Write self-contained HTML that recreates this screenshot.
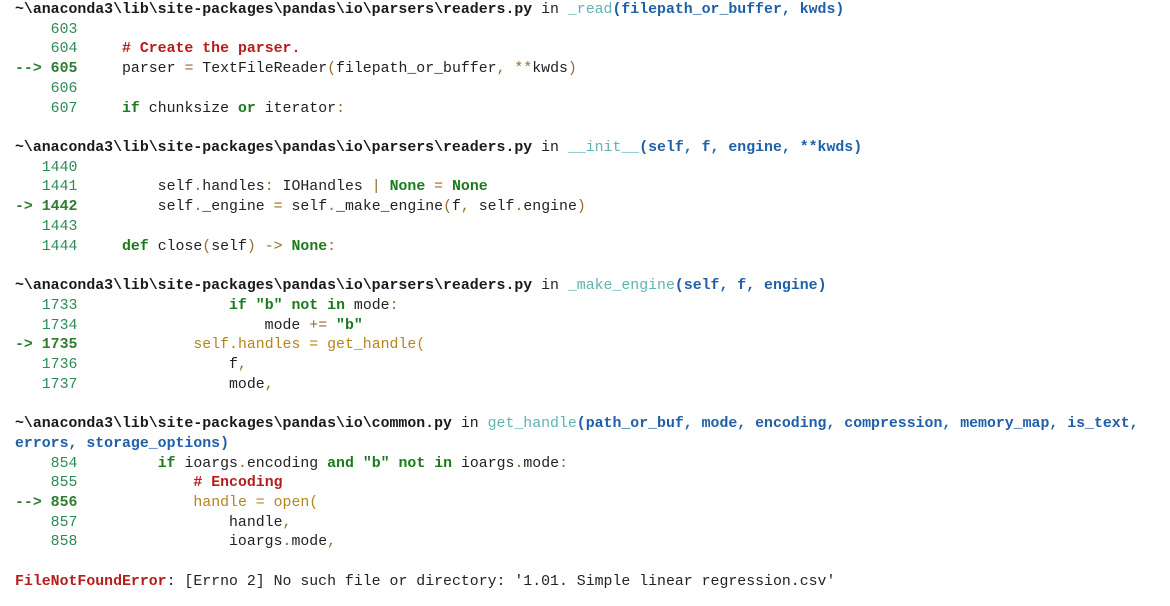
<!DOCTYPE html>
<html><head><meta charset="utf-8"><style>
html,body{margin:0;padding:0;background:#fff;width:1170px;height:606px;overflow:hidden}
pre{margin:0;padding:0 0 0 15px;font-family:"Liberation Mono",monospace;font-size:14.86px;line-height:19.72px;color:#222;position:relative;top:1px}
.p{font-weight:bold;color:#1a1a1a}
.f{color:#5fb3b3}
.a{color:#1f5fa8;font-weight:bold}
.n{color:#2e8b57}
.ar{color:#2e7d32;font-weight:bold}
.c{color:#b71c1c;font-weight:bold}
.k{color:#1b7a1b;font-weight:bold}
.y{color:#b5851a}
.o{color:#9a6b2a}
.e{color:#b71c1c;font-weight:bold}
</style></head><body><pre><span class="p">~\anaconda3\lib\site-packages\pandas\io\parsers\readers.py</span> in <span class="f">_read</span><span class="a">(filepath_or_buffer, kwds)</span>
<span class="n">    603</span>
<span class="n">    604</span>     <span class="c"># Create the parser.</span>
<span class="ar">--&gt; 605</span>     parser <span class="o">=</span> TextFileReader<span class="o">(</span>filepath_or_buffer<span class="o">,</span> <span class="o">**</span>kwds<span class="o">)</span>
<span class="n">    606</span>
<span class="n">    607</span>     <span class="k">if</span> chunksize <span class="k">or</span> iterator<span class="o">:</span>

<span class="p">~\anaconda3\lib\site-packages\pandas\io\parsers\readers.py</span> in <span class="f">__init__</span><span class="a">(self, f, engine, **kwds)</span>
<span class="n">   1440</span>
<span class="n">   1441</span>         self<span class="o">.</span>handles<span class="o">:</span> IOHandles <span class="o">|</span> <span class="k">None</span> <span class="o">=</span> <span class="k">None</span>
<span class="ar">-&gt; 1442</span>         self<span class="o">.</span>_engine <span class="o">=</span> self<span class="o">.</span>_make_engine<span class="o">(</span>f<span class="o">,</span> self<span class="o">.</span>engine<span class="o">)</span>
<span class="n">   1443</span>
<span class="n">   1444</span>     <span class="k">def</span> close<span class="o">(</span>self<span class="o">)</span> <span class="o">-&gt;</span> <span class="k">None</span><span class="o">:</span>

<span class="p">~\anaconda3\lib\site-packages\pandas\io\parsers\readers.py</span> in <span class="f">_make_engine</span><span class="a">(self, f, engine)</span>
<span class="n">   1733</span>                 <span class="k">if</span> <span class="k">"b"</span> <span class="k">not</span> <span class="k">in</span> mode<span class="o">:</span>
<span class="n">   1734</span>                     mode <span class="o">+=</span> <span class="k">"b"</span>
<span class="ar">-&gt; 1735</span>             <span class="y">self.handles = get_handle(</span>
<span class="n">   1736</span>                 f<span class="o">,</span>
<span class="n">   1737</span>                 mode<span class="o">,</span>

<span class="p">~\anaconda3\lib\site-packages\pandas\io\common.py</span> in <span class="f">get_handle</span><span class="a">(path_or_buf, mode, encoding, compression, memory_map, is_text,</span>
<span class="a">errors, storage_options)</span>
<span class="n">    854</span>         <span class="k">if</span> ioargs<span class="o">.</span>encoding <span class="k">and</span> <span class="k">"b"</span> <span class="k">not</span> <span class="k">in</span> ioargs<span class="o">.</span>mode<span class="o">:</span>
<span class="n">    855</span>             <span class="c"># Encoding</span>
<span class="ar">--&gt; 856</span>             <span class="y">handle = open(</span>
<span class="n">    857</span>                 handle<span class="o">,</span>
<span class="n">    858</span>                 ioargs<span class="o">.</span>mode<span class="o">,</span>

<span class="e">FileNotFoundError</span>: [Errno 2] No such file or directory: '1.01. Simple linear regression.csv'
</pre></body></html>
